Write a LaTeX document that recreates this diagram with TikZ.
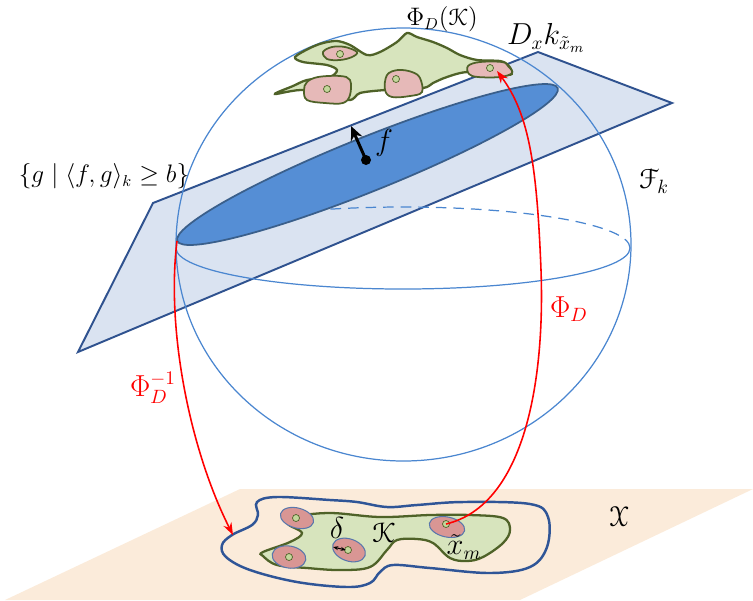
\documentclass[tikz,border=0pt]{standalone}
\usepackage{amsfonts, amssymb, amsmath}
\usepackage[mathscr]{eucal}
\usetikzlibrary{arrows.meta}

\definecolor{planeblue}{HTML}{DAE3F1}
\definecolor{planeedge}{HTML}{2F528F}
\definecolor{sphereblue}{HTML}{4A86D0}
\definecolor{capblue}{HTML}{558ED5}
\definecolor{capedge}{HTML}{3A5F8B}
\definecolor{kgreen}{HTML}{D7E4BD}
\definecolor{kedge}{HTML}{4F6228}
\definecolor{ballpink}{HTML}{E6B9B8}
\definecolor{ballrose}{HTML}{D99694}
\definecolor{dotgreen}{HTML}{C3D69B}
\definecolor{sandbg}{HTML}{FBEBDA}
\definecolor{xedge}{HTML}{2F5597}

\tikzset{
  lbl/.style={font=\fontsize{13.5}{15}\selectfont, inner sep=1pt},
  biglbl/.style={font=\fontsize{16}{18}\selectfont, inner sep=1pt},
  redlbl/.style={biglbl, text=red},
  ball/.style={draw=kedge, fill=ballpink, line width=1pt},
  rball/.style={draw=xedge!80, fill=ballrose, line width=0.6pt},
  seed/.style={draw=kedge, fill=dotgreen, line width=0.4pt},
  maparrow/.style={red, line width=0.9pt, -{Stealth[length=7pt, width=5pt]}}
}

\begin{document}
\begin{tikzpicture}[x=0.02cm, y=-0.02cm]
    \useasboundingbox (0,0) rectangle (753,600);

    % Input space
    \fill[sandbg] (240,489) -- (753,489) -- (520,600) -- (5,600) -- cycle;
    \draw[xedge, line width=1.4pt] plot[smooth cycle, tension=0.6] coordinates {
        (257,502) (277,497) (330,500) (357,502) (387,507) (417,505) (463,502)
        (530,504) (548,517) (547,547) (530,567) (490,573) (430,568) (393,565)
        (380,572) (370,583) (347,587) (297,582) (250,570) (226,557) (222,545)
        (232,535) (252,525) (258,515)};

    % The set K with its balls
    \draw[kedge, fill=kgreen, line width=1.3pt] plot[smooth cycle, tension=0.6] coordinates {
        (288,524) (302,533) (290,542) (263,552) (263,556) (277,565) (307,568)
        (340,570) (370,567) (387,550) (397,540) (417,539) (433,543) (450,558)
        (467,561) (483,557) (503,543) (510,530) (503,518) (470,515) (430,515)
        (380,517) (330,513) (293,517)};
    \draw[rball, rotate around={-15:(297,518)}] (297,518) ellipse [x radius=17, y radius=10];
    \draw[rball, rotate around={-10:(289,557)}] (289,557) ellipse [x radius=17, y radius=11];
    \draw[rball, rotate around={-20:(349,550)}] (349,550) ellipse [x radius=17, y radius=11];
    \draw[rball, rotate around={-12:(447,527)}] (447,527) ellipse [x radius=18, y radius=10];
    \foreach \p in {(296,518), (289,557), (348,550)}
        \draw[seed] \p circle (3.5);
    \coordinate (xm) at (446,524);
    \draw[seed] (xm) circle (3.5);

    % delta
    \coordinate (dl) at (333,547);
    \coordinate (dr) at (346,550);
    \draw[{Stealth[length=3pt]}-{Stealth[length=3pt]}, line width=0.6pt] (dl) -- (dr);

    % Half space
    \filldraw[fill=planeblue, draw=planeedge, line width=1.1pt]
        (78,352) -- (153,203) -- (538,52) -- (672,103) -- cycle;

    % Sphere
    \draw[sphereblue, line width=0.7pt] (403.5,244.5) ellipse [x radius=227.5, y radius=216.5];
    \draw[sphereblue, line width=0.7pt, dashed, dash pattern=on 6pt off 4pt]
        (630,248) arc [start angle=0, end angle=-180, x radius=227, y radius=41];
    \draw[sphereblue, line width=0.7pt]
        (630,248) arc [start angle=0, end angle=180, x radius=227, y radius=41];

    % Cap
    \draw[capedge, fill=capblue, line width=1pt, rotate around={21.9:(367.5,164.5)}]
        (367.5,164.5) ellipse [x radius=205, y radius=27];
    \coordinate (capL) at (177,241);

    % f
    \coordinate (fdot) at (366,160);
    \coordinate (ftip) at (351,126);
    \fill (fdot) circle (5);
    \draw[line width=1.7pt, -{Stealth[length=8pt, width=7pt]}] (fdot) -- (ftip);

    % Image of K
    \draw[kedge, fill=kgreen, line width=1.3pt] plot[smooth cycle, tension=0.5] coordinates {
        (295,57) (310,48) (323,43) (337,41) (350,45) (367,55) (380,52) (397,42)
        (407,33) (417,37) (433,42) (447,48) (460,55) (477,60) (500,61) (508,65)
        (512,72) (507,75) (468,72) (447,77) (433,83) (423,88) (385,90) (360,93)
        (348,100) (305,90) (275,94) (293,86) (307,80) (330,77) (337,70) (327,65)
        (303,62)};
    \draw[ball] plot[smooth cycle, tension=0.6] coordinates {
        (323,52) (332,47) (345,47) (357,52) (352,57) (340,60) (327,59)};
    \draw[ball] plot[smooth cycle, tension=0.6] coordinates {
        (307,82) (318,77) (340,76) (350,80) (350,95) (343,103) (325,103) (307,100) (304,90)};
    \draw[ball] plot[smooth cycle, tension=0.6] coordinates {
        (387,75) (398,70) (412,72) (420,78) (422,92) (410,96) (392,97) (385,90)};
    \draw[ball] plot[smooth cycle, tension=0.6] coordinates {
        (468,66) (480,62) (502,62) (508,66) (512,73) (500,77) (478,77) (469,74)};
    \foreach \p in {(340,54), (327,89), (396,79)}
        \draw[seed] \p circle (3.5);
    \coordinate (phixm) at (490,68);
    \draw[seed] (phixm) circle (3.5);

    % Maps
    \coordinate (phitip) at (497,71);
    \coordinate (invtip) at (233,535);
    \draw[maparrow] (xm) .. controls (525,505) and (545,380) .. (541,270)
        .. controls (537,170) and (530,115) .. (phitip);
    \draw[maparrow] (capL) .. controls (166,330) and (190,450) .. (invtip);

    % Labels
    \node[lbl] (lblPhiK) at (442,19) {$\Phi_D(\mathscr{K})$};
    \node[biglbl] (lblDk) at (546,38) {$D_x k_{\tilde{x}_m}$};
    \node[lbl] (lblHalf) at (104,176) {$\{g \mid \langle f, g\rangle_k \geq b\}$};
    \node[biglbl] (lblF) at (654,181) {$\mathscr{F}_k$};
    \node[biglbl] (lblf) at (384,143) {$f$};
    \node[redlbl] (lblPhi) at (569,309) {$\Phi_D$};
    \node[redlbl] (lblPhiInv) at (153,388) {$\Phi_D^{-1}$};
    \node[biglbl] (lblX) at (619,517) {$\mathscr{X}$};
    \node[biglbl] (lblK) at (384,533) {$\mathscr{K}$};
    \node[biglbl] (lbldelta) at (337,528) {$\delta$};
    \node[biglbl] (lblxm) at (464,547) {$\tilde{x}_m$};
\end{tikzpicture}
\end{document}
